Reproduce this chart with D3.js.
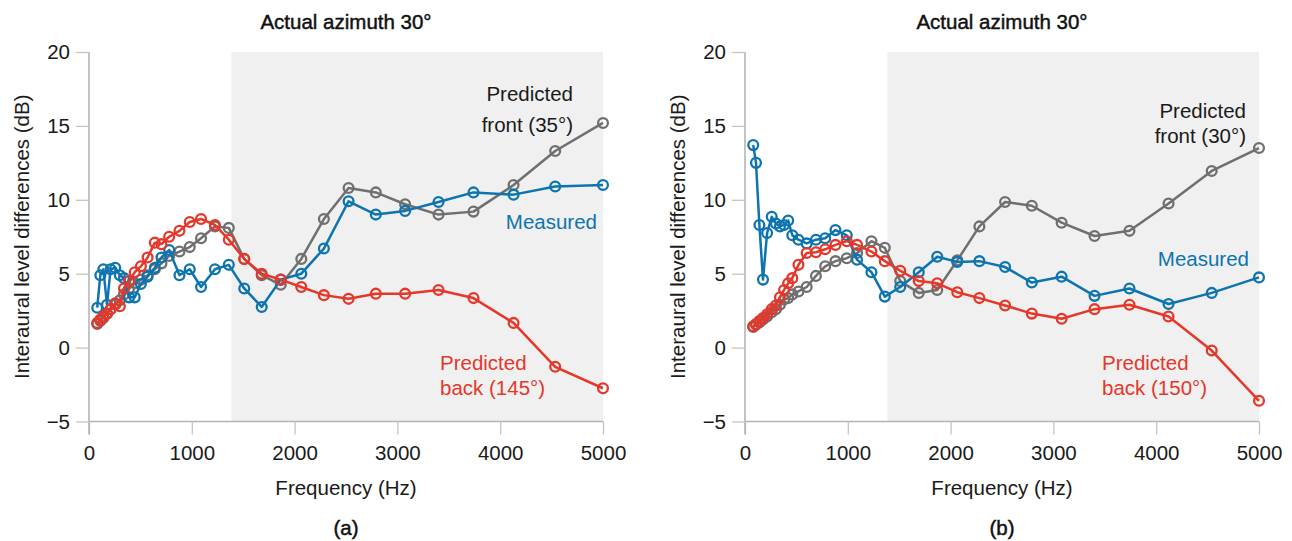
<!DOCTYPE html>
<html>
<head>
<meta charset="utf-8">
<script src="https://cdn.jsdelivr.net/npm/d3@7"></script>
<style>
  body { margin: 0; background: #fff; }
  svg text { font-family: "Liberation Sans", Arial, sans-serif; }
</style>
</head>
<body>
<svg id="chart" width="1292" height="541"></svg>
<script>
// DATA
var freqA = [80, 110, 140, 175, 210, 255, 300, 340, 390, 445, 505, 570, 640, 705, 780, 880, 980, 1090, 1225, 1360, 1510, 1680, 1865, 2065, 2285, 2525, 2790, 3075, 3400, 3740, 4130, 4535, 5000];
var measuredA = [2.7, 4.9, 5.3, 2.9, 5.3, 5.4, 4.9, 4.7, 3.4, 3.4, 4.3, 4.8, 5.4, 6.1, 6.6, 4.9, 5.3, 4.1, 5.3, 5.6, 4.0, 2.75, 4.6, 5.0, 6.7, 9.9, 9.0, 9.25, 9.85, 10.5, 10.35, 10.9, 11.0];
var frontA = [1.6, 1.8, 2.0, 2.3, 2.6, 2.9, 3.2, 3.6, 4.0, 4.35, 4.6, 4.9, 5.3, 5.7, 6.2, 6.5, 6.8, 7.4, 8.2, 8.1, 6.0, 4.9, 4.25, 6.0, 8.7, 10.8, 10.5, 9.7, 9.0, 9.2, 11.0, 13.3, 15.2];
var backA = [1.67, 1.9, 2.1, 2.3, 2.6, 3.0, 2.8, 4.0, 4.5, 5.1, 5.5, 6.1, 7.1, 7.0, 7.5, 7.9, 8.5, 8.7, 8.3, 7.3, 6.0, 5.0, 4.6, 4.1, 3.55, 3.3, 3.65, 3.65, 3.9, 3.35, 1.67, -1.3, -2.75];

var freqB = [80, 107, 140, 175, 215, 260, 300, 340, 380, 420, 460, 520, 600, 690, 780, 880, 990, 1090, 1230, 1360, 1510, 1690, 1870, 2065, 2280, 2530, 2790, 3080, 3400, 3740, 4120, 4540, 5000];
var measuredB = [13.7, 12.5, 8.3, 4.6, 7.75, 8.85, 8.4, 8.2, 8.3, 8.6, 7.6, 7.3, 7.05, 7.3, 7.4, 7.95, 7.6, 5.95, 5.1, 3.45, 4.1, 5.1, 6.15, 5.8, 5.85, 5.45, 4.4, 4.8, 3.5, 4.0, 2.95, 3.7, 4.75];
var frontB = [1.4, 1.55, 1.7, 1.9, 2.1, 2.4, 2.6, 2.9, 3.25, 3.35, 3.6, 3.8, 4.1, 4.85, 5.5, 5.85, 6.05, 6.4, 7.2, 6.75, 4.5, 3.7, 3.9, 5.9, 8.2, 9.85, 9.6, 8.45, 7.55, 7.9, 9.75, 11.95, 13.5];
var backB = [1.44, 1.6, 1.8, 2.0, 2.25, 2.6, 2.85, 3.4, 3.9, 4.35, 4.7, 5.6, 6.4, 6.45, 6.65, 6.95, 7.2, 6.95, 6.5, 5.85, 5.2, 4.5, 4.35, 3.75, 3.35, 2.85, 2.3, 1.95, 2.6, 2.9, 2.1, -0.2, -3.6];

var xTicks = [0, 1000, 2000, 3000, 4000, 5000];
var yTicks = [-5, 0, 5, 10, 15, 20];
var shadeStart = 1385;

var blue = "#0d74b0", red = "#e5372a", grey = "#6f6f6f";

var svg = d3.select("#chart");

function drawPanel(left, freq, measured, front, back, opts) {
  var width = 514, top = 52, bottom = 421.5;
  var g = svg.append("g").attr("transform", "translate(" + left + ",0)");

  var x = d3.scaleLinear().domain([0, 5000]).range([0, width]);
  var y = d3.scaleLinear().domain([-5, 20]).range([bottom, top]);

  // shaded band
  g.append("rect")
      .attr("x", x(shadeStart))
      .attr("y", y(20))
      .attr("width", x(5000) - x(shadeStart))
      .attr("height", y(-5) - y(20))
      .attr("fill", "#f0f0f0");

  // axes
  var xAxis = g.append("g")
      .attr("transform", "translate(0," + bottom + ")")
      .call(d3.axisBottom(x).tickValues(xTicks).tickSize(13).tickPadding(11).tickFormat(d3.format("d")));
  var yAxis = g.append("g")
      .call(d3.axisLeft(y).tickValues(yTicks).tickSize(13).tickPadding(6).tickFormat(function(d) { return d < 0 ? "\u2212" + Math.abs(d) : d; }));

  [xAxis, yAxis].forEach(function(a) {
    a.select(".domain").attr("stroke", "#b4b4b4").attr("stroke-width", 1.6);
    a.selectAll(".tick line").attr("stroke", "#c4c4c4").attr("stroke-width", 1.3);
    a.selectAll(".tick text").attr("fill", "#1a1a1a").style("font-size", "20.5px");
  });
  yAxis.select(".domain").attr("d", "M0," + (bottom + 13) + "V" + top);
  xAxis.select(".domain").attr("d", "M0,0H" + width);

  var line = d3.line()
      .x(function(d) { return x(d[0]); })
      .y(function(d) { return y(d[1]); });

  function series(vals, color) {
    var pts = freq.map(function(f, i) { return [f, vals[i]]; });
    var s = g.append("g");
    s.append("path")
        .datum(pts)
        .attr("d", line)
        .attr("fill", "none")
        .attr("stroke", color)
        .attr("stroke-width", 2.5)
        .attr("stroke-linejoin", "round");
    s.selectAll("circle")
        .data(pts)
        .enter().append("circle")
          .attr("cx", function(d) { return x(d[0]); })
          .attr("cy", function(d) { return y(d[1]); })
          .attr("r", 4.9)
          .attr("fill", "none")
          .attr("stroke", color)
          .attr("stroke-width", 2.3);
  }

  series(front, grey);
  series(measured, blue);
  series(back, red);

  // titles and labels
  g.append("text")
      .attr("x", width / 2)
      .attr("y", 29)
      .attr("text-anchor", "middle")
      .style("font-size", "20.5px")
      .attr("fill", "#111")
      .attr("stroke", "#111")
      .attr("stroke-width", 0.45)
      .text("Actual azimuth 30\u00b0");

  g.append("text")
      .attr("transform", "translate(-60," + ((top + bottom) / 2) + ") rotate(-90)")
      .attr("text-anchor", "middle")
      .style("font-size", "20.5px")
      .attr("fill", "#1a1a1a")
      .text("Interaural level differences (dB)");

  g.append("text")
      .attr("x", width / 2)
      .attr("y", 495)
      .attr("text-anchor", "middle")
      .style("font-size", "20.5px")
      .attr("fill", "#1a1a1a")
      .text("Frequency (Hz)");

  g.append("text")
      .attr("x", width / 2)
      .attr("y", 535)
      .attr("text-anchor", "middle")
      .style("font-size", "20.5px")
      .attr("fill", "#111")
      .attr("stroke", "#111")
      .attr("stroke-width", 0.45)
      .text(opts.tag);

  function label(lines, pos, gap, anchor, color) {
    var t = g.append("text")
        .attr("text-anchor", anchor)
        .style("font-size", "20.5px")
        .attr("fill", color);
    lines.forEach(function(l, i) {
      t.append("tspan").attr("x", pos[0]).attr("y", pos[1] + i * gap).text(l);
    });
  }

  label(["Predicted", opts.frontLabel], opts.frontPos, opts.frontGap, "end", "#1a1a1a");
  label(["Measured"], opts.measPos, 0, "end", blue);
  label(["Predicted", opts.backLabel], opts.backPos, 25, "start", red);
}

drawPanel(89, freqA, measuredA, frontA, backA, {
  tag: "(a)",
  frontLabel: "front (35\u00b0)", frontPos: [484, 101], frontGap: 31,
  measPos: [508, 229],
  backLabel: "back (145\u00b0)", backPos: [351, 370]
});

drawPanel(745, freqB, measuredB, frontB, backB, {
  tag: "(b)",
  frontLabel: "front (30\u00b0)", frontPos: [501, 118], frontGap: 25,
  measPos: [504, 266],
  backLabel: "back (150\u00b0)", backPos: [357, 370]
});
</script>
</body>
</html>
